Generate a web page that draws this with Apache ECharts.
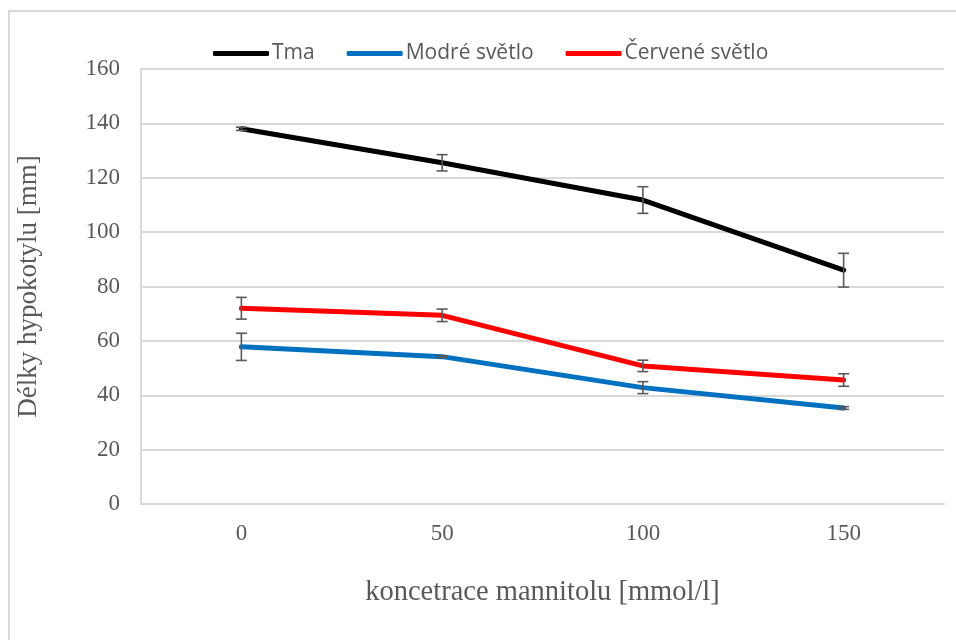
<!DOCTYPE html>
<html>
<head>
<meta charset="utf-8">
<script src="https://cdn.jsdelivr.net/npm/echarts@6/dist/echarts.min.js"></script>
<style>html,body{margin:0;padding:0;background:#fff}#c{width:956px;height:640px}</style>
</head>
<body>
<div id="c"></div>
<script>
var categories = ['0', '50', '100', '150'];
var seriesNames = ['Tma', 'Modré světlo', 'Červené světlo'];
var tma = [138, 125.5, 111.8, 86];
var modre = [57.8, 54.2, 42.8, 35.3];
var cervene = [72, 69.4, 50.8, 45.6];
var tmaErr = [0.6, 3, 4.9, 6.2];
var modreErr = [5, 0.3, 2.2, 0.5];
var cerveneErr = [4, 2.3, 2.1, 2.3];
var yTicks = [0, 20, 40, 60, 80, 100, 120, 140, 160];

var colors = ['#000000', '#0070C0', '#FF0000'];
var values = [tma, modre, cervene];
var errs = [tmaErr, modreErr, cerveneErr];

var errData = [];
for (var s = 0; s < 3; s++) {
  for (var i = 0; i < categories.length; i++) {
    errData.push([i, values[s][i] - errs[s][i], values[s][i] + errs[s][i]]);
  }
}

var chart = echarts.init(document.getElementById('c'), null, {renderer: 'canvas'});
var series = [];
for (var k = 0; k < 3; k++) {
  series.push({
    name: seriesNames[k],
    type: 'line',
    data: values[k],
    symbol: 'none',
    lineStyle: {width: 5, color: colors[k], cap: 'round', join: 'round'},
    itemStyle: {color: colors[k]},
    z: 2
  });
}
series.push({
  type: 'custom',
  name: 'err',
  data: errData,
  z: 5,
  silent: true,
  encode: {x: 0, y: [1, 2]},
  renderItem: function (params, api) {
    var x = api.value(0);
    var lo = api.coord([x, api.value(1)]);
    var hi = api.coord([x, api.value(2)]);
    var hw = 5.5;
    var st = {stroke: '#595959', lineWidth: 1.6};
    return {
      type: 'group',
      children: [
        {type: 'line', shape: {x1: lo[0], y1: lo[1], x2: hi[0], y2: hi[1]}, style: st},
        {type: 'line', shape: {x1: lo[0] - hw, y1: lo[1], x2: lo[0] + hw, y2: lo[1]}, style: st},
        {type: 'line', shape: {x1: hi[0] - hw, y1: hi[1], x2: hi[0] + hw, y2: hi[1]}, style: st}
      ]
    };
  }
});

chart.setOption({
  animation: false,
  backgroundColor: '#ffffff',
  graphic: [{
    type: 'rect',
    shape: {x: 9, y: 11, width: 1000, height: 700},
    style: {fill: 'none', stroke: '#d9d9d9', lineWidth: 2},
    z: -10
  }],
  legend: {
    data: seriesNames,
    top: 38,
    left: 208,
    itemWidth: 56,
    itemHeight: 5,
    itemGap: 32,
    icon: 'roundRect',
    textStyle: {fontFamily: 'Open Sans', fontSize: 21, color: '#595959', padding: [0, 0, 0, -2]}
  },
  grid: {left: 141, right: 12, top: 69, bottom: 136, containLabel: false},
  xAxis: {
    type: 'category',
    data: categories,
    boundaryGap: true,
    name: 'koncetrace mannitolu [mmol/l]',
    nameLocation: 'middle',
    nameGap: 74,
    nameTextStyle: {fontFamily: 'Liberation Serif', fontSize: 28.5, color: '#595959'},
    axisLine: {show: true, lineStyle: {color: '#d9d9d9', width: 2}},
    axisTick: {show: false},
    axisLabel: {fontFamily: 'Liberation Serif', fontSize: 23, color: '#595959', margin: 18},
    splitLine: {show: false}
  },
  yAxis: {
    type: 'value',
    min: 0,
    max: 160,
    interval: 20,
    name: 'Délky hypokotylu [mm]',
    nameLocation: 'middle',
    nameRotate: 90,
    nameGap: 99,
    nameTextStyle: {fontFamily: 'Liberation Serif', fontSize: 27, color: '#595959'},
    axisLine: {show: true, lineStyle: {color: '#d9d9d9', width: 2}},
    axisTick: {show: false},
    axisLabel: {fontFamily: 'Liberation Serif', fontSize: 23, color: '#595959', margin: 21,
      formatter: function (v) { return yTicks.indexOf(v) >= 0 ? String(v) : ''; }},
    splitLine: {show: true, lineStyle: {color: '#d9d9d9', width: 2}}
  },
  series: series
});
</script>
</body>
</html>
